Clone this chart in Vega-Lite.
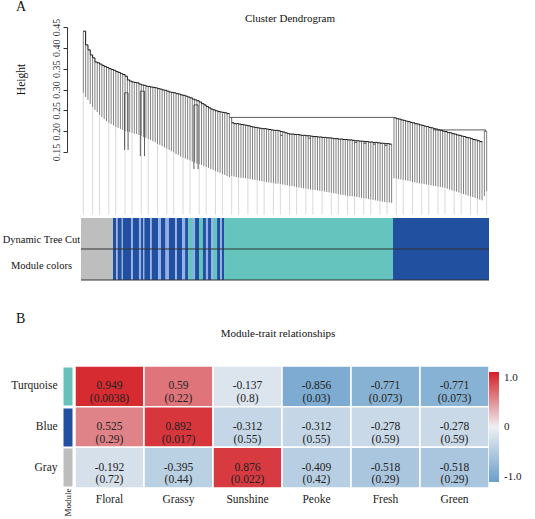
{
  "$schema": "https://vega.github.io/schema/vega-lite/v6.json",
  "autosize": {"type": "pad"},
  "padding": {"left": 2, "top": 0, "right": 10, "bottom": 2},
  "background": "white",
  "config": {
    "font": "Liberation Serif",
    "view": {"stroke": null},
    "axis": {"labelFont": "Liberation Serif", "titleFont": "Liberation Serif", "labelColor": "#222", "titleColor": "#111", "titleFontWeight": "normal", "grid": false},
    "axisY": {"labelOverlap": false, "labelSeparation": 0},
    "title": {"font": "Liberation Serif", "fontWeight": "normal", "color": "#111"},
    "legend": {"labelFont": "Liberation Serif"}
  },
  "datasets": {
    "leaves": [
      {"x":1,"t":0.440,"b":0.292,"s":"L","g":1},{"x":2,"t":0.407,"b":0.282,"s":"L","g":0},{"x":3,"t":0.395,"b":0.275,"s":"L","g":0},{"x":4,"t":0.383,"b":0.265,"s":"L","g":0},{"x":5,"t":0.376,"b":0.258,"s":"L","g":1},
      {"x":6,"t":0.366,"b":0.251,"s":"L","g":0},{"x":7,"t":0.364,"b":0.246,"s":"L","g":0},{"x":8,"t":0.361,"b":0.239,"s":"L","g":1},{"x":9,"t":0.358,"b":0.234,"s":"L","g":0},{"x":10,"t":0.355,"b":0.229,"s":"L","g":0},
      {"x":11,"t":0.353,"b":0.224,"s":"L","g":0},{"x":12,"t":0.350,"b":0.220,"s":"L","g":1},{"x":13,"t":0.348,"b":0.217,"s":"L","g":0},{"x":14,"t":0.346,"b":0.214,"s":"L","g":0},{"x":15,"t":0.343,"b":0.210,"s":"L","g":1},
      {"x":16,"t":0.341,"b":0.208,"s":"L","g":0},{"x":17,"t":0.338,"b":0.205,"s":"L","g":0},{"x":18,"t":0.336,"b":0.203,"s":"L","g":0},{"x":19,"t":0.332,"b":0.200,"s":"L","g":1},{"x":20,"t":0.323,"b":0.199,"s":"L","g":0},
      {"x":21,"t":0.320,"b":0.198,"s":"L","g":0},{"x":22,"t":0.318,"b":0.196,"s":"L","g":1},{"x":23,"t":0.317,"b":0.194,"s":"L","g":0},{"x":24,"t":0.316,"b":0.193,"s":"L","g":0},{"x":25,"t":0.313,"b":0.191,"s":"L","g":0},
      {"x":26,"t":0.311,"b":0.188,"s":"L","g":1},{"x":27,"t":0.310,"b":0.186,"s":"L","g":0},{"x":28,"t":0.308,"b":0.184,"s":"L","g":0},{"x":29,"t":0.307,"b":0.181,"s":"L","g":1},{"x":30,"t":0.306,"b":0.179,"s":"L","g":0},
      {"x":31,"t":0.305,"b":0.176,"s":"L","g":0},{"x":32,"t":0.304,"b":0.173,"s":"L","g":0},{"x":33,"t":0.302,"b":0.169,"s":"L","g":1},{"x":34,"t":0.301,"b":0.167,"s":"L","g":0},{"x":35,"t":0.299,"b":0.164,"s":"L","g":0},
      {"x":36,"t":0.298,"b":0.161,"s":"L","g":0},{"x":37,"t":0.296,"b":0.158,"s":"L","g":1},{"x":38,"t":0.294,"b":0.155,"s":"L","g":0},{"x":39,"t":0.293,"b":0.152,"s":"L","g":0},{"x":40,"t":0.292,"b":0.149,"s":"L","g":1},
      {"x":41,"t":0.290,"b":0.145,"s":"L","g":0},{"x":42,"t":0.289,"b":0.143,"s":"L","g":0},{"x":43,"t":0.287,"b":0.139,"s":"L","g":0},{"x":44,"t":0.286,"b":0.136,"s":"L","g":1},{"x":45,"t":0.284,"b":0.134,"s":"L","g":0},
      {"x":46,"t":0.282,"b":0.132,"s":"L","g":0},{"x":47,"t":0.280,"b":0.130,"s":"L","g":1},{"x":48,"t":0.277,"b":0.127,"s":"L","g":0},{"x":49,"t":0.275,"b":0.125,"s":"L","g":0},{"x":50,"t":0.273,"b":0.122,"s":"L","g":0},
      {"x":51,"t":0.270,"b":0.121,"s":"L","g":1},{"x":52,"t":0.266,"b":0.119,"s":"L","g":0},{"x":53,"t":0.263,"b":0.116,"s":"L","g":0},{"x":54,"t":0.259,"b":0.114,"s":"L","g":1},{"x":55,"t":0.256,"b":0.112,"s":"L","g":0},
      {"x":56,"t":0.253,"b":0.109,"s":"L","g":0},{"x":57,"t":0.251,"b":0.107,"s":"L","g":0},{"x":58,"t":0.249,"b":0.104,"s":"L","g":1},{"x":59,"t":0.247,"b":0.102,"s":"L","g":0},{"x":60,"t":0.246,"b":0.100,"s":"L","g":0},
      {"x":61,"t":0.245,"b":0.097,"s":"L","g":1},{"x":62,"t":0.244,"b":0.095,"s":"L","g":0},{"x":63,"t":0.242,"b":0.092,"s":"L","g":0},{"x":64,"t":0.241,"b":0.090,"s":"L","g":0},
      {"x":65,"t":0.220,"b":0.092,"s":"M","g":1},{"x":66,"t":0.218,"b":0.091,"s":"M","g":0},{"x":67,"t":0.218,"b":0.090,"s":"M","g":0},{"x":68,"t":0.217,"b":0.089,"s":"M","g":1},{"x":69,"t":0.216,"b":0.088,"s":"M","g":0},
      {"x":70,"t":0.215,"b":0.088,"s":"M","g":0},{"x":71,"t":0.214,"b":0.087,"s":"M","g":0},{"x":72,"t":0.213,"b":0.086,"s":"M","g":1},{"x":73,"t":0.211,"b":0.085,"s":"M","g":0},{"x":74,"t":0.210,"b":0.084,"s":"M","g":0},
      {"x":75,"t":0.209,"b":0.083,"s":"M","g":0},{"x":76,"t":0.208,"b":0.082,"s":"M","g":1},{"x":77,"t":0.207,"b":0.081,"s":"M","g":0},{"x":78,"t":0.206,"b":0.080,"s":"M","g":0},{"x":79,"t":0.206,"b":0.079,"s":"M","g":1},
      {"x":80,"t":0.205,"b":0.078,"s":"M","g":0},{"x":81,"t":0.204,"b":0.077,"s":"M","g":0},{"x":82,"t":0.203,"b":0.076,"s":"M","g":0},{"x":83,"t":0.202,"b":0.075,"s":"M","g":1},{"x":84,"t":0.202,"b":0.074,"s":"M","g":0},
      {"x":85,"t":0.201,"b":0.074,"s":"M","g":0},{"x":86,"t":0.199,"b":0.073,"s":"M","g":1},{"x":87,"t":0.198,"b":0.072,"s":"M","g":0},{"x":88,"t":0.196,"b":0.071,"s":"M","g":0},{"x":89,"t":0.194,"b":0.070,"s":"M","g":0},
      {"x":90,"t":0.193,"b":0.069,"s":"M","g":1},{"x":91,"t":0.193,"b":0.068,"s":"M","g":0},{"x":92,"t":0.192,"b":0.067,"s":"M","g":0},{"x":93,"t":0.192,"b":0.066,"s":"M","g":1},{"x":94,"t":0.191,"b":0.065,"s":"M","g":0},
      {"x":95,"t":0.190,"b":0.064,"s":"M","g":0},{"x":96,"t":0.190,"b":0.063,"s":"M","g":0},{"x":97,"t":0.189,"b":0.062,"s":"M","g":1},{"x":98,"t":0.189,"b":0.061,"s":"M","g":0},{"x":99,"t":0.188,"b":0.060,"s":"M","g":0},
      {"x":100,"t":0.187,"b":0.059,"s":"M","g":1},{"x":101,"t":0.187,"b":0.059,"s":"M","g":0},{"x":102,"t":0.186,"b":0.058,"s":"M","g":0},{"x":103,"t":0.186,"b":0.057,"s":"M","g":0},{"x":104,"t":0.185,"b":0.056,"s":"M","g":1},
      {"x":105,"t":0.185,"b":0.055,"s":"M","g":0},{"x":106,"t":0.184,"b":0.054,"s":"M","g":0},{"x":107,"t":0.184,"b":0.053,"s":"M","g":0},{"x":108,"t":0.183,"b":0.052,"s":"M","g":1},{"x":109,"t":0.182,"b":0.051,"s":"M","g":0},
      {"x":110,"t":0.182,"b":0.050,"s":"M","g":0},{"x":111,"t":0.181,"b":0.049,"s":"M","g":1},{"x":112,"t":0.181,"b":0.048,"s":"M","g":0},{"x":113,"t":0.180,"b":0.047,"s":"M","g":0},{"x":114,"t":0.180,"b":0.046,"s":"M","g":0},
      {"x":115,"t":0.179,"b":0.045,"s":"M","g":1},{"x":116,"t":0.179,"b":0.044,"s":"M","g":0},{"x":117,"t":0.178,"b":0.044,"s":"M","g":0},{"x":118,"t":0.177,"b":0.043,"s":"M","g":1},{"x":119,"t":0.177,"b":0.042,"s":"M","g":0},
      {"x":120,"t":0.176,"b":0.041,"s":"M","g":0},{"x":121,"t":0.176,"b":0.040,"s":"M","g":0},{"x":122,"t":0.175,"b":0.039,"s":"M","g":1},{"x":123,"t":0.175,"b":0.038,"s":"M","g":0},{"x":124,"t":0.174,"b":0.037,"s":"M","g":0},
      {"x":125,"t":0.174,"b":0.036,"s":"M","g":1},{"x":126,"t":0.173,"b":0.035,"s":"M","g":0},{"x":127,"t":0.173,"b":0.034,"s":"M","g":0},{"x":128,"t":0.172,"b":0.033,"s":"M","g":0},{"x":129,"t":0.171,"b":0.032,"s":"M","g":1},
      {"x":130,"t":0.171,"b":0.031,"s":"M","g":0},{"x":131,"t":0.170,"b":0.030,"s":"M","g":0},{"x":132,"t":0.170,"b":0.029,"s":"M","g":1},{"x":133,"t":0.169,"b":0.029,"s":"M","g":0},{"x":134,"t":0.169,"b":0.028,"s":"M","g":0},
      {"x":135,"t":0.232,"b":0.087,"s":"R","g":0},{"x":136,"t":0.230,"b":0.086,"s":"R","g":1},{"x":137,"t":0.229,"b":0.085,"s":"R","g":0},{"x":138,"t":0.227,"b":0.084,"s":"R","g":0},{"x":139,"t":0.226,"b":0.083,"s":"R","g":1},
      {"x":140,"t":0.224,"b":0.082,"s":"R","g":0},{"x":141,"t":0.223,"b":0.081,"s":"R","g":0},{"x":142,"t":0.221,"b":0.080,"s":"R","g":0},{"x":143,"t":0.220,"b":0.078,"s":"R","g":1},{"x":144,"t":0.218,"b":0.077,"s":"R","g":0},
      {"x":145,"t":0.217,"b":0.076,"s":"R","g":0},{"x":146,"t":0.215,"b":0.075,"s":"R","g":0},{"x":147,"t":0.214,"b":0.074,"s":"R","g":1},{"x":148,"t":0.212,"b":0.073,"s":"R","g":0},{"x":149,"t":0.211,"b":0.072,"s":"R","g":0},
      {"x":150,"t":0.209,"b":0.071,"s":"R","g":1},{"x":151,"t":0.208,"b":0.070,"s":"R","g":0},{"x":152,"t":0.206,"b":0.069,"s":"R","g":0},{"x":153,"t":0.205,"b":0.068,"s":"R","g":0},{"x":154,"t":0.203,"b":0.067,"s":"R","g":1},
      {"x":155,"t":0.202,"b":0.066,"s":"R","g":0},{"x":156,"t":0.200,"b":0.065,"s":"R","g":0},{"x":157,"t":0.199,"b":0.064,"s":"R","g":1},{"x":158,"t":0.197,"b":0.062,"s":"R","g":0},{"x":159,"t":0.196,"b":0.060,"s":"R","g":0},
      {"x":160,"t":0.194,"b":0.058,"s":"R","g":0},{"x":161,"t":0.193,"b":0.056,"s":"R","g":1},{"x":162,"t":0.191,"b":0.055,"s":"R","g":0},{"x":163,"t":0.190,"b":0.053,"s":"R","g":0},{"x":164,"t":0.188,"b":0.051,"s":"R","g":1},
      {"x":165,"t":0.187,"b":0.049,"s":"R","g":0},{"x":166,"t":0.185,"b":0.047,"s":"R","g":0},{"x":167,"t":0.184,"b":0.045,"s":"R","g":0},{"x":168,"t":0.182,"b":0.043,"s":"R","g":1},{"x":169,"t":0.180,"b":0.042,"s":"R","g":0},
      {"x":170,"t":0.179,"b":0.040,"s":"R","g":0},{"x":171,"t":0.177,"b":0.038,"s":"R","g":1},{"x":172,"t":0.175,"b":0.036,"s":"R","g":0},{"x":173,"t":0.173,"b":0.034,"s":"R","g":0},
      {"x":174,"t":0.200,"b":0.044,"s":"C","g":0},{"x":175,"t":0.200,"b":0.056,"s":"C","g":1}
    ],
    "links": [
      {"x1":64,"x2":135,"h1":0.233,"h2":0.233},{"x1":65,"x2":65,"h1":0.220,"h2":0.233},
      {"x1":152,"x2":174.5,"h1":0.203,"h2":0.203},{"x1":174,"x2":175,"h1":0.200,"h2":0.200},{"x1":174.5,"x2":174.5,"h1":0.200,"h2":0.203},
      {"x1":18.8,"x2":20.3,"h1":0.292,"h2":0.292},{"x1":18.8,"x2":18.8,"h1":0.292,"h2":0.155},{"x1":20.3,"x2":20.3,"h1":0.292,"h2":0.155},
      {"x1":25.6,"x2":27.4,"h1":0.296,"h2":0.296},{"x1":25.6,"x2":25.6,"h1":0.296,"h2":0.140},{"x1":27.4,"x2":27.4,"h1":0.296,"h2":0.140},
      {"x1":48.7,"x2":50.5,"h1":0.263,"h2":0.263},{"x1":48.7,"x2":48.7,"h1":0.263,"h2":0.109},{"x1":50.5,"x2":50.5,"h1":0.263,"h2":0.109},
      {"x1":86,"x2":87,"h1":0.190,"h2":0.190},{"x1":98,"x2":99,"h1":0.183,"h2":0.183},{"x1":118,"x2":119,"h1":0.173,"h2":0.173},
      {"x1":122,"x2":123,"h1":0.171,"h2":0.171},{"x1":126,"x2":127,"h1":0.169,"h2":0.169},{"x1":131,"x2":132,"h1":0.166,"h2":0.166}
    ],
    "bars": [
      {"s":0,"e":13.8,"c":"grey"},{"s":13.8,"e":15.2,"c":"blue"},{"s":15.2,"e":15.8,"c":"light"},{"s":15.8,"e":17.6,"c":"blue"},
      {"s":17.6,"e":18.1,"c":"light"},{"s":18.1,"e":21.6,"c":"blue"},{"s":21.6,"e":22.4,"c":"light"},{"s":22.4,"e":25.0,"c":"blue"},
      {"s":25.0,"e":25.9,"c":"light"},{"s":25.9,"e":26.8,"c":"blue"},{"s":26.8,"e":27.3,"c":"light"},{"s":27.3,"e":29.9,"c":"blue"},
      {"s":29.9,"e":30.5,"c":"light"},{"s":30.5,"e":33.3,"c":"blue"},{"s":33.3,"e":34.5,"c":"light"},{"s":34.5,"e":36.5,"c":"blue"},
      {"s":36.5,"e":37.9,"c":"light"},{"s":37.9,"e":40.6,"c":"blue"},{"s":40.6,"e":41.4,"c":"light"},{"s":41.4,"e":43.6,"c":"blue"},
      {"s":43.6,"e":44.9,"c":"light"},{"s":44.9,"e":46.2,"c":"blue"},{"s":46.2,"e":48.3,"c":"turquoise"},{"s":48.3,"e":49.2,"c":"light"},
      {"s":49.2,"e":50.9,"c":"blue"},{"s":50.9,"e":52.6,"c":"turquoise"},{"s":52.6,"e":53.9,"c":"blue"},{"s":53.9,"e":54.8,"c":"light"},
      {"s":54.8,"e":56.1,"c":"blue"},{"s":56.1,"e":56.9,"c":"light"},{"s":56.9,"e":58.7,"c":"turquoise"},{"s":58.7,"e":60.0,"c":"blue"},
      {"s":60.0,"e":60.8,"c":"light"},{"s":60.8,"e":61.7,"c":"blue"},{"s":61.7,"e":134.6,"c":"turquoise"},{"s":134.6,"e":176,"c":"blue"}
    ],
    "mt": [
      {"module":"Turquoise","trait":"Floral","r":0.949,"p":"0.0038"},{"module":"Turquoise","trait":"Grassy","r":0.59,"p":"0.22"},
      {"module":"Turquoise","trait":"Sunshine","r":-0.137,"p":"0.8"},{"module":"Turquoise","trait":"Peoke","r":-0.856,"p":"0.03"},
      {"module":"Turquoise","trait":"Fresh","r":-0.771,"p":"0.073"},{"module":"Turquoise","trait":"Green","r":-0.771,"p":"0.073"},
      {"module":"Blue","trait":"Floral","r":0.525,"p":"0.29"},{"module":"Blue","trait":"Grassy","r":0.892,"p":"0.017"},
      {"module":"Blue","trait":"Sunshine","r":-0.312,"p":"0.55"},{"module":"Blue","trait":"Peoke","r":-0.312,"p":"0.55"},
      {"module":"Blue","trait":"Fresh","r":-0.278,"p":"0.59"},{"module":"Blue","trait":"Green","r":-0.278,"p":"0.59"},
      {"module":"Gray","trait":"Floral","r":-0.192,"p":"0.72"},{"module":"Gray","trait":"Grassy","r":-0.395,"p":"0.44"},
      {"module":"Gray","trait":"Sunshine","r":0.876,"p":"0.022"},{"module":"Gray","trait":"Peoke","r":-0.409,"p":"0.42"},
      {"module":"Gray","trait":"Fresh","r":-0.518,"p":"0.29"},{"module":"Gray","trait":"Green","r":-0.518,"p":"0.29"}
    ]
  },
  "title": {"text": "A", "anchor": "start", "frame": "group", "fontSize": 14, "dx": -59, "offset": -1},
  "bounds": "flush",
  "spacing": 66,
  "vconcat": [
    {
      "width": 414,
      "height": 125,
      "title": {"text": "Cluster Dendrogram", "fontSize": 11, "dx": 8, "offset": -6},
      "resolve": {"axis": {"y": "independent"}},
      "layer": [
        {
          "data": {"name": "leaves"},
          "transform": [{"filter": "datum.g == 1"}],
          "mark": {"type": "rule", "color": "#d0d0d0", "strokeWidth": 0.8},
          "encoding": {
            "x": {"field": "x", "type": "quantitative", "scale": {"domain": [-2.59, 176], "nice": false, "zero": false}, "axis": null},
            "y": {"field": "b", "type": "quantitative", "scale": {"domain": [0.15, 0.45], "nice": false, "zero": false},
              "axis": {"title": "Height", "values": [0.15, 0.2, 0.25, 0.3, 0.35, 0.4, 0.45], "format": ".2f", "offset": 8, "tickSize": 4,
                "tickColor": "#333", "domainColor": "#333", "labelAngle": 270, "labelAlign": "center", "labelBaseline": "bottom", "labelPadding": 2,
                "labelFontSize": 10, "labelColor": "#333", "labelFlush": false, "labelOverlap": false, "labelSeparation": 0, "labelBound": false,
                "titleAngle": 270, "titleX": -46, "titleY": 52, "titleAlign": "center", "titleBaseline": "middle", "titleFontSize": 11.5}},
            "y2": {"datum": 0}
          }
        },
        {
          "data": {"name": "leaves"},
          "mark": {"type": "rule", "color": "#555", "strokeWidth": 0.75},
          "encoding": {
            "x": {"field": "x", "type": "quantitative", "axis": null},
            "y": {"field": "b", "type": "quantitative", "axis": null},
            "y2": {"field": "t"}
          }
        },
        {
          "data": {"name": "leaves"},
          "transform": [{"filter": "datum.s != 'C'"}],
          "mark": {"type": "line", "interpolate": "step-after", "color": "#111", "strokeWidth": 1},
          "encoding": {
            "x": {"field": "x", "type": "quantitative", "axis": null},
            "y": {"field": "t", "type": "quantitative", "axis": null},
            "detail": {"field": "s"}
          }
        },
        {
          "data": {"name": "links"},
          "mark": {"type": "rule", "color": "#333", "strokeWidth": 0.8},
          "encoding": {
            "x": {"field": "x1", "type": "quantitative", "axis": null},
            "x2": {"field": "x2"},
            "y": {"field": "h1", "type": "quantitative", "axis": null},
            "y2": {"field": "h2"}
          }
        }
      ]
    },
    {
      "width": 414,
      "height": 62,
      "title": {"text": "B", "orient": "bottom", "anchor": "start", "frame": "group", "fontSize": 14, "dx": -59, "offset": 31, "baseline": "top"},
      "layer": [
        {
          "data": {"name": "bars"},
          "mark": {"type": "rect"},
          "encoding": {
            "x": {"field": "s", "type": "quantitative", "scale": {"domain": [-2.59, 176], "nice": false, "zero": false}, "axis": null},
            "x2": {"field": "e"},
            "color": {"field": "c", "type": "nominal", "legend": null,
              "scale": {"domain": ["grey", "blue", "light", "turquoise"], "range": ["#bebebe", "#2150a0", "#93aee8", "#65c4bd"]}}
          }
        },
        {
          "data": {"values": [{"row": "Dynamic Tree Cut"}, {"row": "Module colors"}]},
          "mark": {"type": "rule", "color": "#333", "strokeWidth": 1},
          "encoding": {
            "x": {"datum": 0, "type": "quantitative"},
            "x2": {"datum": 176},
            "y": {"field": "row", "type": "nominal", "bandPosition": 1,
              "scale": {"type": "band", "domain": ["Dynamic Tree Cut", "Module colors"], "paddingInner": 0, "paddingOuter": 0},
              "axis": {"title": null, "domain": false, "ticks": false, "tickSize": 0, "labelPadding": 34, "labelAlign": "center",
                "labelFontSize": 10.5, "labelColor": "#111", "labelBaseline": "middle",
                "labelOffset": {"condition": {"test": "datum.value === 'Dynamic Tree Cut'", "value": 6}, "value": 1}}}
          }
        }
      ]
    },
    {
      "width": 414,
      "height": 142,
      "data": {"name": "mt"},
      "title": {"text": "Module-trait relationships", "fontSize": 11, "dx": -4, "offset": 7},
      "transform": [{"calculate": "datum.r + '\\n(' + datum.p + ')'", "as": "label"}],
      "encoding": {
        "x": {"field": "trait", "type": "nominal", "sort": ["Floral", "Grassy", "Sunshine", "Peoke", "Fresh", "Green"],
          "scale": {"paddingInner": 0, "paddingOuter": 0},
          "axis": {"title": "Module", "labelAngle": 0, "domain": false, "ticks": false, "tickSize": 0, "labelPadding": 5, "labelFontSize": 11.5,
            "labelColor": "#222", "titleAngle": 270, "titleX": -8, "titleY": 0, "titleAlign": "right", "titleBaseline": "middle", "titleFontSize": 9}},
        "y": {"field": "module", "type": "nominal", "sort": ["Turquoise", "Blue", "Gray"],
          "scale": {"paddingInner": 0, "paddingOuter": 0, "range": [20, 142]},
          "axis": {"title": null, "domain": false, "offset": 3, "tickSize": 9, "tickWidth": 38, "tickCap": "butt",
            "tickColor": {"condition": [{"test": "datum.value === 'Turquoise'", "value": "#66c2b9"}, {"test": "datum.value === 'Blue'", "value": "#21509f"}], "value": "#bdbdbd"},
            "labelPadding": 6, "labelFontSize": 11.5, "labelColor": "#222"}}
      },
      "layer": [
        {
          "mark": {"type": "rect", "stroke": "white", "strokeWidth": 1.5},
          "encoding": {
            "color": {"field": "r", "type": "quantitative",
              "scale": {"domain": [-1, 0, 1], "range": ["#6a9fcb", "#eef0f3", "#d42027"], "interpolate": "rgb"},
              "legend": {"title": null, "orient": "none", "legendX": 414, "legendY": 26, "direction": "vertical", "gradientLength": 110, "gradientThickness": 10,
                "values": [-1, 0, 1], "labelExpr": "datum.value > 0 ? '1.0' : (datum.value < 0 ? '-1.0' : '0')", "labelFontSize": 11, "labelColor": "#222",
                "labelOffset": 5, "gradientStrokeWidth": 0}}
          }
        },
        {
          "mark": {"type": "text", "lineBreak": "\n", "fontSize": 11.5, "color": "#222", "dy": 0, "lineHeight": 12.5},
          "encoding": {"text": {"field": "label", "type": "nominal"}}
        }
      ]
    }
  ]
}
